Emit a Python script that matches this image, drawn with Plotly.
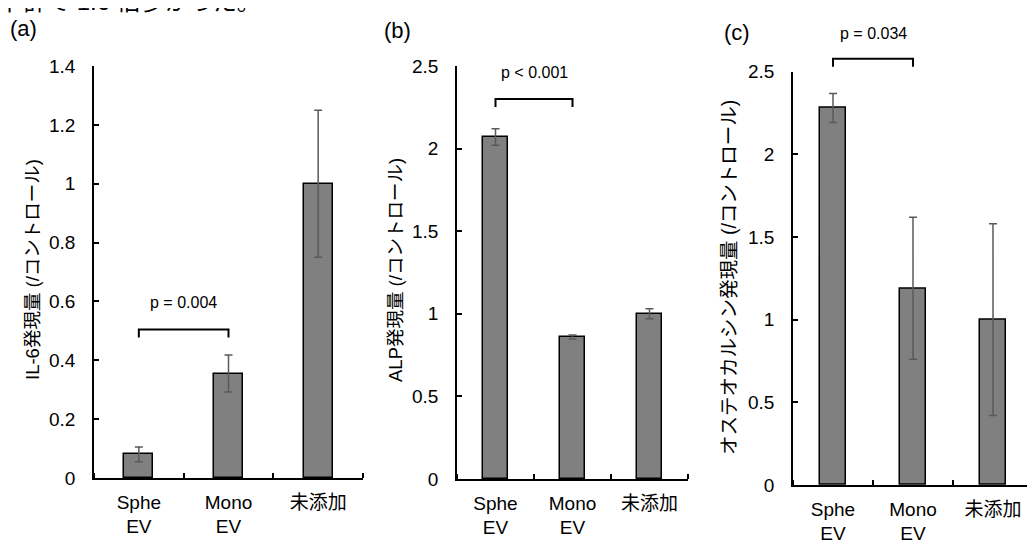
import plotly.graph_objects as go

# ---- data ----
categories = ["Sphe<br>EV", "Mono<br>EV", "未添加"]
x_pos = [1, 2, 3]

il6_values = [0.08, 0.355, 1.0]
il6_errors = [0.025, 0.063, 0.25]

alp_values = [2.07, 0.86, 1.0]
alp_errors = [0.05, 0.012, 0.03]

ocn_values = [2.28, 1.19, 1.0]
ocn_errors = [0.088, 0.43, 0.58]

panel_labels = ["(a)", "(b)", "(c)"]
y_titles = ["IL-6発現量 (/コントロール)", "ALP発現量 (/コントロール)", "オステオカルシン発現量 (/コントロール)"]
y_ranges = [[0, 1.4], [0, 2.5], [0, 2.5]]
y_dticks = [0.2, 0.5, 0.5]

p_labels = ["p = 0.004", "p < 0.001", "p = 0.034"]
bracket_y = [0.505, 2.30, 2.578]   # data units
p_text_y = [0.596, 2.462, 2.733]   # data units

top_text = "下群で 1.6 倍多かった。"

# ---- style / layout ----
FONT = "Liberation Sans, Arial, Noto Sans CJK JP, sans-serif"
W, H = 1035, 545
OFF = 8  # page body margin compensation (px)


def px_x(x):
    return (x - OFF) / W


def px_y(y):
    return 1 - (y - OFF) / H


x_domains = [[px_x(94), px_x(363)], [px_x(457), px_x(688)], [px_x(793), px_x(1033)]]
y_domains = [[px_y(478), px_y(66)], [px_y(479), px_y(66)], [px_y(485), px_y(71.7)]]
title_pos = [(32, 270), (395, 270), (729, 278)]
title_sizes = [18.5, 18.5, 19.5]
label_pos = [(23, 28), (397, 30), (737, 32)]

values = [il6_values, alp_values, ocn_values]
errors = [il6_errors, alp_errors, ocn_errors]


def to_paper(i, v):
    d0, d1 = y_domains[i]
    r0, r1 = y_ranges[i]
    return d0 + (v - r0) / (r1 - r0) * (d1 - d0)


fig = go.Figure()
annotations = []
shapes = []
for i in range(3):
    xa = "x" if i == 0 else f"x{i+1}"
    ya = "y" if i == 0 else f"y{i+1}"
    fig.add_trace(go.Bar(
        x=x_pos, y=values[i], width=0.32,
        marker=dict(color="#808080", line=dict(color="black", width=1.5)),
        error_y=dict(type="data", array=errors[i], visible=True,
                     color="#5a5a5a", thickness=1.5, width=4),
        xaxis=xa, yaxis=ya, showlegend=False,
    ))
    axkey = "xaxis" if i == 0 else f"xaxis{i+1}"
    aykey = "yaxis" if i == 0 else f"yaxis{i+1}"
    fig.layout[axkey] = dict(
        domain=x_domains[i], anchor=ya, range=[0.5, 3.5],
        tickmode="array", tickvals=x_pos, ticktext=categories, ticks="",
        showline=True, linecolor="black", linewidth=1.5,
        showgrid=False, zeroline=False,
        tickfont=dict(family=FONT, size=19, color="black"),
        ticklabelstandoff=6,
        minor=dict(tickmode="array", tickvals=[0.5, 1.5, 2.5, 3.5], ticks="inside",
                   ticklen=5, tickwidth=1.5, tickcolor="black", showgrid=False),
    )
    fig.layout[aykey] = dict(
        domain=y_domains[i], anchor=xa, range=y_ranges[i], dtick=y_dticks[i], tick0=0,
        showline=True, linecolor="black", linewidth=1.5,
        ticks="inside", ticklen=5, tickwidth=1.5, tickcolor="black",
        showgrid=False, zeroline=False,
        tickfont=dict(family=FONT, size=19, color="black"),
        ticklabelstandoff=13,
    )
    # y-axis title
    tx, ty = title_pos[i]
    annotations.append(dict(
        text=y_titles[i], xref="paper", yref="paper", x=px_x(tx), y=px_y(ty),
        xanchor="center", yanchor="middle", textangle=-90, showarrow=False,
        font=dict(family=FONT, size=title_sizes[i], color="black")))
    # panel label
    lx, ly = label_pos[i]
    annotations.append(dict(
        text=panel_labels[i], xref="paper", yref="paper", x=px_x(lx), y=px_y(ly),
        xanchor="center", yanchor="middle", showarrow=False,
        font=dict(family=FONT, size=22, color="black")))
    # p-value label
    annotations.append(dict(
        text=p_labels[i], xref=xa, yref="paper", x=1.5, y=to_paper(i, p_text_y[i]),
        xanchor="center", yanchor="middle", showarrow=False,
        font=dict(family=FONT, size=16, color="black")))
    # bracket
    yb = to_paper(i, bracket_y[i])
    ydrop = yb - 8 / H
    shapes.append(dict(
        type="path", xref=xa, yref="paper",
        path=f"M 1,{ydrop} L 1,{yb} L 2,{yb} L 2,{ydrop}",
        line=dict(color="black", width=2)))

annotations.append(dict(
    text=top_text, xref="paper", yref="paper", x=px_x(263), y=px_y(2),
    xanchor="right", yanchor="middle", showarrow=False,
    font=dict(family=FONT, size=24, color="black")))

fig.update_layout(
    width=W, height=H, margin=dict(l=0, r=0, t=0, b=0, autoexpand=False),
    paper_bgcolor="white", plot_bgcolor="white",
    annotations=annotations, shapes=shapes, bargap=0,
)
fig.write_html("out.html")
